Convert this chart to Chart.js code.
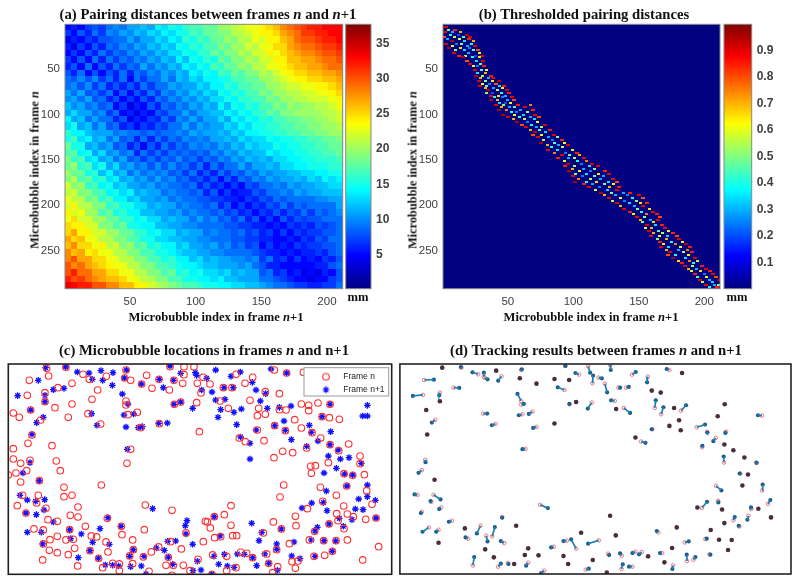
<!DOCTYPE html>
<html><head><meta charset="utf-8">
<style>
html,body{margin:0;padding:0;background:#fff;width:800px;height:584px;overflow:hidden}
canvas{position:absolute}
.t{position:absolute;font-family:'Liberation Serif',serif;font-weight:bold;color:#111;white-space:nowrap;transform:translate(-50%,-50%)}
.title{font-size:14.7px}
.ax{font-size:12.6px}
.v{transform:translate(-50%,-50%) rotate(-90deg);font-size:12.3px}
</style>
<script src="https://cdn.jsdelivr.net/npm/chart.js@4"></script>
</head><body>
<canvas id="a" style="left:0;top:0;width:400px;height:330px"></canvas>
<canvas id="acb" style="left:344px;top:0;width:56px;height:330px"></canvas>
<canvas id="b" style="left:400px;top:0;width:400px;height:330px"></canvas>
<canvas id="bcb" style="left:722px;top:0;width:78px;height:330px"></canvas>
<canvas id="c" style="left:0;top:340px;width:400px;height:244px"></canvas>
<canvas id="d" style="left:395px;top:340px;width:405px;height:244px"></canvas>
<div class="t title" style="left:208px;top:14px">(a) Pairing distances between frames <i>n</i> and <i>n</i>+1</div>
<div class="t title" style="left:584px;top:14px">(b) Thresholded pairing distances</div>
<div class="t title" style="left:204px;top:350px">(c) Microbubble locations in frames <i>n</i> and n+1</div>
<div class="t title" style="left:596px;top:350px">(d) Tracking results between frames <i>n</i> and n+1</div>
<div class="t ax" style="left:216px;top:317px">Microbubble index in frame <i>n</i>+1</div>
<div class="t ax" style="left:591px;top:317px">Microbubble index in frame <i>n</i>+1</div>
<div class="t ax v" style="left:35px;top:170px">Microbubble index in frame <i>n</i></div>
<div class="t ax v" style="left:413px;top:170px">Microbubble index in frame <i>n</i></div>
<div class="t ax" style="left:358px;top:297px">mm</div>
<div class="t ax" style="left:737px;top:297px">mm</div>
<script>
const xTicks=[50,100,150,200];
const yTicks=[50,100,150,200,250];
const distTicks=[5,10,15,20,25,30,35];
const threshTicks=[0.1,0.2,0.3,0.4,0.5,0.6,0.7,0.8,0.9];
const heatColX=[3,8,13,19,24,29,35,40,45,51,56,61,66,72,77,82,88,93,98,104,109,114,120,125,130,135,141,146,151,157,162,167,173,178,183,188,194,199,204,210];
const heatRowY=[4,11,18,26,33,40,48,55,62,69,77,84,91,99,106,113,121,128,135,143,150,157,165,172,179,187,194,201,209,216,223,231,238,245,253,260,267,275,282,289];
const distanceRows=[
[5,6,5,7,8,7,9,10,9,11,11,12,11,14,13,15,14,16,17,17,18,18,20,20,21,22,23,23,24,25,26,28,29,30,31,32,32,33,33,33],
[7,5,8,6,9,7,10,9,11,10,12,11,13,12,14,13,15,15,17,16,18,18,19,19,21,21,22,23,24,24,25,27,28,29,31,31,32,32,33,33],
[4,6,5,7,6,8,8,9,9,11,9,11,11,13,12,14,13,16,15,17,16,18,18,20,19,21,21,23,22,24,24,26,27,29,30,30,31,32,32,33],
[6,4,7,5,8,6,9,8,10,9,11,10,12,11,13,12,15,14,16,15,17,17,19,18,20,20,22,21,23,23,25,25,27,28,29,29,30,31,31,32],
[5,7,5,8,6,9,7,9,8,10,9,11,10,12,11,13,13,15,14,16,16,18,17,19,19,21,20,22,22,24,23,25,26,27,28,28,29,30,30,31],
[7,5,8,5,9,6,9,7,9,8,10,9,11,10,12,11,14,12,15,14,16,15,18,17,19,19,21,20,22,22,24,24,26,26,27,27,28,29,29,30],
[6,8,5,9,5,8,6,9,7,9,8,11,9,11,10,12,11,14,13,15,14,17,16,18,18,20,19,21,21,23,23,24,25,26,26,27,27,28,29,29],
[8,6,9,5,8,5,8,6,9,6,9,8,10,9,11,10,12,11,14,13,15,14,17,16,18,17,19,19,21,20,22,23,24,25,25,26,26,27,27,28],
[9,8,10,8,10,7,9,6,9,5,9,7,9,9,11,9,12,11,13,12,14,14,15,15,17,17,18,18,20,20,21,22,23,24,24,25,25,26,26,27],
[9,10,8,10,7,9,6,8,6,8,6,9,7,9,9,11,10,11,11,13,12,14,14,16,15,17,17,18,18,20,20,21,22,22,23,23,24,24,25,26],
[11,9,11,8,9,7,9,5,8,5,8,6,9,7,10,9,11,10,12,11,13,12,15,14,16,15,17,17,19,18,20,20,21,21,22,22,23,23,24,25],
[10,11,9,11,8,9,6,8,5,7,5,8,6,9,8,10,9,11,10,12,11,13,13,15,14,16,16,17,17,19,18,20,20,21,21,22,22,22,23,24],
[12,10,11,9,10,8,9,5,7,4,6,5,8,6,9,8,10,9,11,10,12,11,14,12,15,14,16,15,17,17,19,18,20,19,20,20,21,21,22,23],
[11,13,11,11,9,10,7,9,5,6,4,6,5,8,7,9,9,11,9,11,11,12,12,14,13,15,14,16,16,18,17,19,19,20,20,20,20,21,21,22],
[14,11,12,9,11,9,9,6,8,4,6,5,7,6,9,7,10,9,11,9,11,11,13,11,14,13,15,14,16,15,17,17,18,18,19,19,20,20,21,22],
[13,15,11,12,9,11,8,9,6,7,5,7,6,8,7,9,9,11,9,11,10,11,11,13,12,14,13,15,15,16,16,17,17,18,18,19,19,20,20,21],
[16,14,14,12,11,11,11,9,10,9,9,8,9,8,9,9,10,9,11,10,11,11,12,11,13,12,14,14,15,15,16,16,17,17,18,18,19,19,20,20],
[15,17,13,14,11,12,9,11,8,9,6,9,6,9,7,9,8,10,9,10,9,11,11,12,11,13,12,13,13,15,14,15,15,16,16,17,17,18,18,19],
[18,15,15,11,12,10,11,8,9,6,8,5,8,6,9,7,9,8,10,9,10,9,11,10,12,11,13,12,13,13,15,14,15,15,16,16,17,17,18,18],
[17,18,14,15,11,13,10,11,9,10,6,9,7,9,7,9,8,9,8,9,8,10,9,11,10,12,11,12,12,14,13,14,14,15,15,16,16,17,17,18],
[19,16,17,13,14,11,12,9,11,8,9,7,9,7,9,8,10,8,9,7,9,8,10,9,11,10,12,11,12,11,13,13,14,14,15,15,16,16,16,17],
[18,20,16,17,13,15,11,13,10,11,9,10,8,10,8,10,8,9,7,9,6,9,7,9,9,11,9,11,11,12,11,13,13,14,14,15,15,15,16,16],
[20,18,18,15,16,12,14,11,12,9,11,9,10,9,10,8,9,7,9,6,8,6,9,7,9,8,10,9,11,10,11,11,12,12,13,13,14,14,15,15],
[19,21,17,18,15,16,13,14,11,12,10,11,9,11,9,10,8,9,7,8,6,8,5,8,6,9,8,10,9,11,10,11,11,12,11,13,12,14,13,14],
[22,19,20,16,17,14,15,12,13,11,11,10,11,9,10,9,9,8,9,6,8,6,7,5,7,5,8,7,9,9,10,9,11,10,11,11,12,12,13,13],
[21,22,19,19,17,17,14,15,13,14,11,12,11,11,9,10,9,9,8,9,6,8,5,7,5,6,6,8,7,9,9,10,9,11,10,11,11,12,12,12],
[23,21,21,18,19,16,17,14,14,12,13,11,11,10,11,9,10,9,9,8,8,7,7,6,6,5,7,6,8,7,9,8,9,9,9,9,10,10,11,11],
[22,24,21,21,19,19,16,17,15,15,13,13,11,12,11,11,9,10,9,9,8,9,6,8,5,7,5,7,6,8,7,9,7,9,8,9,9,9,9,11],
[24,22,23,20,20,17,18,15,16,14,14,12,12,11,11,10,11,9,10,9,9,8,9,7,8,6,7,5,7,6,8,6,8,7,9,7,9,8,9,10],
[23,25,22,22,20,20,18,18,16,16,14,15,13,13,11,12,11,11,9,11,9,10,8,9,7,9,6,8,5,7,5,8,6,8,7,8,8,9,9,9],
[25,24,24,22,22,19,19,17,18,15,15,14,14,12,12,11,11,10,10,9,9,9,9,8,8,7,7,6,6,5,6,5,7,6,7,6,8,7,8,9],
[25,27,24,24,22,22,20,20,18,18,16,16,14,15,13,13,11,12,11,11,9,10,9,9,8,9,7,8,6,7,5,7,5,7,6,7,7,8,8,9],
[27,25,26,23,23,21,21,19,19,17,17,15,15,13,13,12,12,11,11,10,10,9,9,9,8,8,7,7,6,6,5,5,6,5,7,6,8,7,9,9],
[26,28,25,25,23,24,21,22,19,20,17,18,15,16,14,14,12,13,11,11,10,11,9,10,8,9,7,8,5,7,5,6,5,7,6,7,7,8,8,9],
[28,26,27,24,25,23,23,21,21,19,19,17,17,15,15,14,13,12,12,11,11,10,10,9,9,9,9,8,7,6,6,5,6,5,6,6,7,6,8,9],
[28,30,27,27,25,25,23,23,21,21,19,19,17,17,15,16,14,14,12,13,11,12,11,11,10,10,9,10,7,9,6,7,5,7,5,6,5,7,6,8],
[30,28,29,27,26,25,24,23,23,21,21,19,19,17,17,16,15,14,14,13,12,12,11,11,11,10,11,9,8,6,6,5,5,5,5,5,6,6,8,9],
[30,32,29,29,27,27,25,25,23,23,21,21,19,19,17,18,15,16,14,15,13,13,12,13,11,12,11,11,8,9,6,7,5,6,4,5,4,6,5,8],
[32,30,31,29,28,27,26,26,25,23,23,21,21,19,19,17,17,15,15,14,14,13,14,12,12,11,11,11,9,9,8,7,6,5,5,4,5,5,7,8],
[34,33,32,32,30,30,28,28,26,26,24,24,22,21,20,19,18,17,17,16,15,15,14,14,13,13,12,12,11,10,9,9,8,7,7,6,6,7,7,9]
];
const thresholdRows=[
[4,[3],[.9]],[7,[5,10],[.5,.85]],[9,[2,8,14],[.9,.3,.7]],[12,[6,12,19],[.4,.2,.95]],[14,[1,9,16,21],[.8,.55,.45,.9]],[17,[4,13,20],[.3,.6,.85]],[19,[7,17,24],[.95,.35,.7]],[22,[3,11,15,22],[.9,.25,.5,.4]],[24,[8,19,25],[.6,.3,.9]],[27,[5,14,21],[.95,.65,.25]],[29,[10,17,24,27],[.5,.35,.45,.8]],[32,[9,20,28],[.9,.3,.6]],[35,[13,18,25,30],[.85,.55,.2,.9]],[37,[16,23,28],[.95,.4,.65]],[41,[19,26,31],[.8,.35,.9]],[44,[21,29],[.9,.5]],[47,[24,27,32],[.6,.25,.85]],[51,[25,30,34],[.9,.45,.6]],[54,[27,33],[.35,.7]],[57,[26,31,37],[.95,.55,.85]],
[60,[29,35,39],[.7,.3,.9]],[63,[28,33,38,43],[.9,.5,.65,.95]],[66,[31,36,41],[.6,.25,.8]],[68,[29,34,44,47],[.9,.45,.35,.85]],[71,[33,39,46],[.7,.3,.6]],[73,[35,42,49],[.95,.55,.9]],[76,[34,38,45,51],[.5,.2,.4,.85]],[79,[37,43,48],[.9,.65,.3]],[81,[40,46,53],[.4,.25,.9]],[84,[37,42,50,55],[.95,.7,.3,.8]],[87,[44,48,52],[.35,.2,.6]],[89,[41,47,58,67],[.9,.5,.85,.75]],[92,[45,51,55,63],[.7,.3,.45,.9]],[95,[43,49,60,69],[.95,.75,.3,.85]],[97,[53,57,65],[.4,.25,.55]],[100,[46,55,62,71],[.95,.6,.35,.9]],[103,[50,59,67,74],[.9,.45,.3,.8]],[105,[54,63,70],[.7,.55,.35]],[108,[57,65,73],[.95,.25,.6]],[111,[61,68,78],[.8,.4,.9]],[114,[64,72,76],[.9,.3,.55]],[117,[67,74,82],[.7,.45,.85]],[119,[71,79],[.95,.35]],[122,[69,76,85],[.8,.6,.9]],[125,[73,81,88],[.9,.3,.5]],[128,[77,84,91],[.55,.25,.85]],[131,[75,86,93],[.95,.45,.6]],[134,[80,89,96],[.7,.3,.9]],[136,[83,92],[.4,.55]],[139,[81,88,99],[.9,.35,.65]],
[142,[86,94,103],[.75,.25,.85]],[145,[91,97,105],[.9,.5,.7]],[148,[88,96,101,108],[.85,.3,.55,.9]],[151,[93,103,110],[.6,.4,.75]],[154,[96,106,114],[.95,.25,.9]],[157,[94,101,112,119],[.85,.55,.35,.9]],[160,[99,108,116],[.7,.3,.5]],[162,[97,105,113,124],[.95,.6,.25,.85]],[165,[102,110,119,127],[.5,.35,.65,.9]],[168,[100,107,116,123],[.9,.25,.45,.3]],[171,[104,113,121,130],[.75,.55,.3,.9]],[174,[101,110,118,127,133],[.95,.4,.65,.35,.8]],[177,[108,115,124,131],[.85,.3,.5,.6]],[180,[112,120,128,135],[.9,.25,.7,.85]],[183,[117,126,133],[.6,.35,.9]],[186,[121,129,138,143],[.95,.5,.3,.85]],[189,[124,132,141,150],[.7,.3,.25,.9]],[192,[127,136,145,153],[.9,.6,.4,.8]],[195,[130,139,148],[.55,.25,.5]],[198,[133,143,151,156],[.9,.35,.65,.85]],[201,[136,147,153],[.7,.3,.9]],[204,[139,149,158],[.9,.5,.65]],[207,[143,152,161],[.85,.4,.9]],[210,[146,156,164],[.6,.75,.85]],[213,[149,154,166],[.9,.5,.8]],[216,[151,159,165],[.7,.3,.9]],[219,[153,161],[.5,.65]],[222,[156,163,168],[.9,.35,.85]],[225,[155,160,170],[.6,.7,.9]],[228,[158,165,173],[.9,.45,.6]],[231,[161,168,176],[.7,.55,.85]],[234,[159,166,172,179],[.9,.6,.35,.8]],[237,[164,171,181],[.5,.7,.9]],[240,[166,175,183],[.85,.4,.6]],[243,[169,178,186],[.65,.75,.95]],[246,[167,173,182,189],[.9,.35,.6,.85]],[249,[171,180,187],[.7,.3,.75]],[252,[174,184,191],[.9,.55,.85]],[255,[172,178,188],[.8,.4,.6]],[258,[176,186,193],[.95,.35,.9]],[261,[180,189,195],[.65,.75,.55]],[264,[183,192],[.85,.4]],[267,[185,191,198],[.9,.55,.85]],[270,[188,194,201],[.7,.3,.9]],[273,[190,197,204],[.6,.65,.85]],[276,[193,200,207],[.85,.25,.9]],[279,[195,202,209],[.45,.6,.8]],[282,[197,204,211],[.9,.3,.95]],[285,[199,206],[.55,.35]],[288,[201,208,211],[.9,.3,.5]],[290,[204,210],[.4,.85]]
];
const frameN=[[140,100],[198,97],[146,123],[88,136],[249,118],[268,133],[319,124],[378,105],[374,129],[392,136],[440,121],[477,133],[522,136],[510,95],[552,95],[582,95],[552,119],[592,145],[548,145],[425,147],[456,160],[508,165],[135,173],[174,158],[216,145],[293,165],[82,181],[276,193],[135,200],[92,225],[165,218],[216,207],[378,198],[378,210],[523,208],[542,201],[590,203],[40,234],[58,247],[122,255],[205,247],[264,236],[384,239],[412,232],[302,267],[478,266],[422,278],[96,300],[84,325],[156,332],[40,341],[392,343],[598,290],
[823,105],[860,114],[910,112],[609,127],[708,118],[758,127],[630,147],[735,145],[670,158],[696,158],[603,174],[796,170],[838,176],[660,198],[750,196],[685,220],[776,220],[838,224],[858,225],[904,207],[926,211],[954,204],[990,208],[926,227],[772,242],[796,238],[988,248],[1018,253],[966,245],[884,254],[824,272],[772,285],[856,287],[904,279],[936,293],[718,309],[736,320],[792,317],[962,309],[1046,327],[990,329],[920,339],[848,349],[878,353],[1016,347],
[40,372],[62,385],[90,376],[169,378],[181,407],[80,407],[48,414],[25,420],[62,441],[118,437],[381,385],[192,457],[304,450],[68,481],[115,481],[192,485],[216,481],[110,504],[52,512],[138,520],[234,516],[436,510],[516,526],[78,534],[211,541],[234,546],[144,554],[172,559],[322,550],[102,582],[130,585],[209,584],[256,574],[364,574],[433,584],[558,594],[366,599],[274,603],[290,606],[172,604],[150,614],[198,615],[220,613],[318,621],[398,615],[512,620],[130,627],[224,640],[148,646],[172,653],[205,659],[270,647],[324,651],[400,644],[476,636],[454,651],[544,642],[128,675],[233,693],[296,670],[389,663],[430,666],[505,667],[308,698],[338,685],[358,687],[398,686],[358,707],[447,709],[498,691],[520,691],[550,691],[570,707],[516,721],[594,673],
[822,368],[1080,363],[985,383],[932,394],[946,392],[1080,386],[934,415],[1032,416],[1058,421],[1093,419],[851,450],[961,457],[1040,453],[1100,467],[840,486],[1009,481],[693,512],[968,499],[922,521],[1116,508],[1031,513],[1060,545],[1042,537],[673,539],[643,545],[616,559],[622,561],[631,579],[693,571],[1010,536],[886,544],[1097,553],[1014,557],[1128,549],[820,561],[888,572],[987,567],[1032,581],[844,582],[790,594],[944,589],[698,602],[710,602],[644,608],[662,605],[610,620],[928,615],[971,617],[1008,617],[1042,615],[868,626],[1136,635],[830,644],[997,649],[638,660],[680,664],[722,652],[740,655],[800,657],[942,664],[974,661],[758,668],[806,685],[876,680],[894,678],[1088,675],[833,695],[886,700],[708,698],[680,707],[818,713],[636,718]];
const frameN1=[[137,98],[197,96],[115,136],[232,111],[267,114],[277,133],[303,107],[339,113],[380,105],[373,129],[308,136],[337,151],[424,147],[478,133],[520,136],[510,93],[542,115],[586,113],[490,158],[160,164],[192,160],[135,181],[53,182],[135,200],[367,177],[384,207],[92,225],[522,208],[542,201],[578,220],[275,236],[372,240],[401,237],[130,247],[110,263],[291,271],[378,276],[476,265],[502,264],[415,278],[427,275],[96,298],[382,343],[590,121],
[647,105],[813,102],[860,114],[721,111],[693,124],[620,130],[757,142],[672,158],[700,158],[605,165],[636,171],[768,165],[797,176],[647,195],[675,193],[781,198],[662,224],[802,220],[702,232],[724,222],[838,217],[873,213],[990,208],[1102,211],[654,247],[966,245],[1088,243],[1102,243],[710,269],[852,258],[824,272],[928,271],[768,285],[856,286],[992,290],[934,292],[722,306],[750,325],[874,314],[954,318],[920,334],[990,329],[1014,345],
[90,383],[69,414],[118,437],[60,481],[82,495],[107,499],[134,494],[132,525],[78,534],[109,539],[160,561],[324,548],[209,584],[82,592],[124,592],[300,581],[363,574],[244,597],[212,611],[278,622],[328,628],[128,627],[270,647],[400,644],[469,639],[493,646],[503,619],[527,618],[578,628],[558,597],[556,572],[561,557],[458,521],[235,668],[295,670],[389,664],[432,664],[505,667],[316,690],[338,691],[356,693],[392,695],[424,693],[518,688],[592,679],[579,707],[438,717],[603,705],
[750,372],[985,363],[1021,372],[1047,368],[1084,385],[1009,400],[972,414],[1034,417],[1058,420],[1041,453],[1102,450],[979,468],[1102,485],[1076,492],[1126,496],[935,504],[970,503],[906,519],[981,527],[1066,522],[1089,524],[643,545],[1018,550],[1056,554],[1128,549],[755,565],[987,567],[844,582],[1030,574],[952,577],[945,588],[785,592],[660,603],[934,615],[777,617],[882,621],[972,617],[1007,618],[830,627],[830,643],[997,649],[642,664],[673,658],[712,657],[733,658],[794,657],[875,663],[900,671],[945,664],[758,668],[656,688],[682,693],[702,697],[770,692],[806,685],[832,706],[635,718]];
const trackMoved=[[199,98,197,96],[249,118,232,112],[87,135,116,134],[266,125,266,113],[268,128,277,133],[319,124,309,137],[378,105,380,103],[510,93,511,93],[552,119,541,114],[579,94,585,113],[592,145,594,122],[610,128,620,130],[508,165,488,157],[175,158,192,159],[134,173,132,181],[83,180,53,183],[378,198,367,177],[378,209,386,207],[523,208,523,207],[590,203,578,221],[264,236,276,236],[382,238,371,241],[412,230,401,237],[120,255,110,263],[301,267,290,271],[424,276,414,279],[391,342,382,343],
[645,90,647,105],[711,119,722,111],[758,125,756,142],[823,105,815,102],[629,146,636,172],[670,158,675,158],[693,158,701,156],[659,198,648,196],[686,219,705,234],[779,219,782,196],[798,238,805,217],[858,227,873,211],[1101,242,1089,241],[905,277,930,269],[772,283,770,283],[936,291,937,293],[993,290,991,294],[962,309,955,319],[738,320,751,324],[921,337,922,333],[987,383,986,365],
[90,375,91,382],[80,406,70,414],[67,480,58,479],[115,480,136,494],[108,501,106,499],[138,518,132,523],[80,531,77,535],[435,510,458,520],[170,558,161,561],[321,547,321,549],[101,578,82,591],[130,585,123,591],[256,573,245,596],[291,605,299,577],[273,603,277,620],[219,612,211,608],[327,625,317,619],[476,636,468,638],[515,618,505,619],[543,642,528,614],[611,617,579,627],[233,692,237,667],[309,696,317,687],[338,685,340,688],[399,684,393,693],[447,708,438,715],[572,705,581,702],
[1083,383,1085,384],[1036,416,1034,416],[1101,467,1103,449],[963,453,979,467],[921,519,936,501],[969,498,970,503],[1119,507,1126,496],[1069,523,1068,518],[1060,543,1057,555],[1015,557,1019,547],[1033,575,1031,573],[790,593,785,589],[931,613,935,612],[869,623,881,620],[639,657,642,661],[680,663,675,656],[721,651,712,655],[740,652,732,659],[801,655,795,655],[943,659,946,660],[876,679,875,660],[895,675,901,667],[834,692,832,703],[679,703,683,689],[712,696,702,696]];
const trackStill=[[141,98],[303,107],[374,130],[478,132],[522,135],[424,146],[134,199],[93,225],[543,201],[478,266],[96,299],
[861,114],[770,167],[797,173],[663,222],[837,219],[989,208],[968,244],[852,256],[823,273],[857,286],[721,308],[988,329],[1015,346],[1048,368],
[118,435],[209,581],[363,573],[558,594],[130,624],[399,641],[270,644],[430,662],[389,661],[296,668],[505,664],[519,688],[357,688],[593,676],
[1059,419],[1042,452],[907,518],[981,524],[1090,522],[645,543],[1128,548],[988,565],[845,578],[947,586],[662,602],[972,615],[1010,616],[831,640],[999,646],[759,665],[808,683],[635,714]];

function jet(t){
  t=Math.max(0,Math.min(1,t));
  const f=(c)=>Math.round(255*Math.max(0,Math.min(1,1.5-Math.abs(4*t-c))));
  return `rgb(${f(3)},${f(2)},${f(1)})`;
}
const sprites=new Map();
function sprite(color,w,h){
  const k=color+w+'x'+h;
  if(!sprites.has(k)){const c=document.createElement('canvas');c.width=w;c.height=h;const g=c.getContext('2d');g.fillStyle=color;g.fillRect(0,0,w,h);sprites.set(k,c);}
  return sprites.get(k);
}
const sansTick={family:"'Liberation Sans',sans-serif",size:11.5};
const sansBold={family:"'Liberation Sans',sans-serif",size:12,weight:'bold'};
const framePlugin={id:'framePlot',
  beforeDatasetsDraw(ch,_,o){const g=ch.ctx;if(o.fill){const a=ch.chartArea;g.fillStyle=o.fill;g.fillRect(a.left,a.top,a.width,a.height);}if(o.blur)g.filter=`blur(${o.blur}px)`;},
  afterDatasetsDraw(ch,_,o){const a=ch.chartArea;const g=ch.ctx;g.filter='none';g.save();g.strokeStyle=o.color;g.lineWidth=o.width;g.strokeRect(a.left,a.top,a.width,a.height);g.restore();}};
Chart.register(framePlugin);
function heatScales(xw){return {
  x:{type:'linear',min:0.5,max:212,
    afterBuildTicks(s){s.ticks=xTicks.map(v=>({value:v}));},
    afterFit(s){s.height=41.3;},
    border:{display:false},grid:{display:true,drawOnChartArea:false,drawTicks:true,tickLength:-3,color:'#666'},
    ticks:{font:sansTick,color:'#404040',padding:9,maxRotation:0,autoSkip:false,callback:v=>v}},
  y:{type:'linear',reverse:true,min:0.5,max:292,
    afterBuildTicks(s){s.ticks=yTicks.map(v=>({value:v}));},
    afterFit(s){s.width=xw;},
    border:{display:false},grid:{display:true,drawOnChartArea:false,drawTicks:true,tickLength:-3,color:'#666'},
    ticks:{font:sansTick,color:'#404040',padding:8,autoSkip:false,callback:v=>v}}
};}
const base={responsive:false,animation:false,events:[]};
function size(id,w,h){const c=document.getElementById(id);c.width=w;c.height=h;return c;}
// (a)
new Chart(size('a',400,330),{type:'scatter',data:{datasets:[{label:'Pairing distance',
  data:distanceRows.flatMap((r,i)=>r.map((v,j)=>({x:heatColX[j],y:heatRowY[i],v}))),
  pointRadius:3,pointStyle:c=>sprite(jet((c.raw.v-0.2)/37.5),8,8)}]},
  options:{...base,layout:{padding:{right:57.3,top:24.3,left:0,bottom:0}},scales:heatScales(65),
    plugins:{legend:{display:false},framePlot:{color:'#888',width:1,fill:jet(0.35),blur:.6}}}});
// (b)
new Chart(size('b',400,330),{type:'scatter',data:{datasets:[{label:'Thresholded distance',
  data:thresholdRows.flatMap(r=>r[1].map((x,j)=>({x,y:r[0],v:r[2][j]}))),
  pointRadius:2,pointStyle:c=>sprite(jet(c.raw.v),c.raw.v>=.8?4:3,2)}]},
  options:{...base,layout:{padding:{right:80,top:24.3,left:0,bottom:0}},scales:heatScales(43),
    plugins:{legend:{display:false},framePlot:{color:'#888',width:1,fill:jet(0),blur:.35}}}});
// colour bars
function colorbar(id,w,min,max,ticks,padLeft,axisW,label){
  new Chart(size(id,w,330),{type:'bar',data:{labels:[label],datasets:[{label,data:[[min,max]],barPercentage:1,categoryPercentage:1,borderSkipped:false,
    backgroundColor(c){const a=c.chart.chartArea;if(!a)return '#00f';const g=c.chart.ctx.createLinearGradient(0,a.bottom,0,a.top);for(let i=0;i<=32;i++)g.addColorStop(i/32,jet(i/32));return g;}}]},
    options:{...base,layout:{padding:{left:padLeft,top:24.3,bottom:41.3,right:0}},
      scales:{x:{display:false},y:{position:'right',min,max,
        afterBuildTicks(s){s.ticks=ticks.map(v=>({value:v}));},
        afterFit(s){s.width=axisW;},
        border:{display:false},grid:{drawOnChartArea:false,drawTicks:false},
        ticks:{font:sansBold,color:'#404040',padding:5,autoSkip:false,callback:v=>String(v)}}},
      plugins:{legend:{display:false},framePlot:{color:'#888',width:1}}}});
}
colorbar('acb',56,0.2,37.7,distTicks,1.7,29,'mm');
colorbar('bcb',78,0,1,threshTicks,2,48.3,'mm');
// (c)
function legendGlyph(kind){
  const c=document.createElement('canvas');c.width=12;c.height=12;const g=c.getContext('2d');
  if(kind==='circle'){g.strokeStyle='#f33';g.lineWidth=1.1;g.beginPath();g.arc(6,6,3.3,0,7);g.stroke();}
  else{g.strokeStyle='#11f';g.lineWidth=1.2;g.beginPath();[[0,3.4],[3.4,0],[2.4,2.4],[2.4,-2.4]].forEach(([a,b])=>{g.moveTo(6-a,6-b);g.lineTo(6+a,6+b);});g.stroke();}
  return c;
}
const legendPlugin={id:'legendBox',
  beforeLayout(ch){const l=ch.legend;if(l)l._layers=()=>[{z:5,draw(a){const g=ch.ctx;g.save();g.fillStyle='#fff';g.fillRect(304,27.7,84.7,28.3);g.strokeStyle='#999';g.lineWidth=1;g.strokeRect(304,27.7,84.7,28.3);g.restore();l.draw(a);}}];},
  afterLayout(ch){const l=ch.legend;l.left=308.5;l.right=388;l.top=28;l.bottom=60;l.width=79.5;l.height=32;}};
new Chart(size('c',400,244),{type:'scatter',data:{datasets:[
  {label:'Frame n',data:frameN.map(p=>({x:p[0],y:p[1]})),pointStyle:'circle',pointRadius:3.3,pointBorderWidth:1.1,pointBorderColor:'#f33',pointBackgroundColor:'rgba(0,0,0,0)'},
  {label:'Frame n+1',data:frameN1.map(p=>({x:p[0],y:p[1]})),pointStyle:'star',pointRadius:3.3,pointBorderWidth:1.3,pointBorderColor:'#11f',pointBackgroundColor:'#11f'}]},
  options:{...base,layout:{padding:{left:8.3,right:8.3,top:24,bottom:9.7}},
    scales:{x:{display:false,min:25,max:1175},y:{display:false,reverse:true,min:87,max:718}},
    plugins:{framePlot:{color:'#222',width:1.6},
      legend:{position:'chartArea',align:'start',labels:{font:{family:"'Liberation Sans',sans-serif",size:8.5},color:'#222',usePointStyle:true,boxHeight:6,pointStyleWidth:26,padding:4.5,
        generateLabels(ch){return Chart.defaults.plugins.legend.labels.generateLabels(ch).map((it,i)=>({...it,pointStyle:legendGlyph(i===0?'circle':'star')}));}}}}},
  plugins:[legendPlugin]});
// (d)
const segs=trackMoved.flatMap(p=>[{x:p[0],y:p[1]},{x:p[2],y:p[3]},{x:null,y:null}]);
new Chart(size('d',405,244),{type:'scatter',data:{datasets:[
  {label:'Track',data:segs,showLine:true,spanGaps:false,borderColor:'#1d7fb5',borderWidth:1.7,pointRadius:0},
  {label:'Frame n+1',data:trackMoved.map(p=>({x:p[2],y:p[3]})),pointRadius:2.1,pointBackgroundColor:'#1b5d88',pointBorderWidth:0},
  {label:'Both frames',data:trackStill.map(p=>({x:p[0],y:p[1]})),pointRadius:2.3,pointBackgroundColor:'#4a2c3c',pointBorderWidth:0},
  {label:'Frame n',data:trackMoved.map(p=>({x:p[0],y:p[1]})),pointRadius:1.8,pointBorderWidth:.9,pointBorderColor:'#ee6a74',pointBackgroundColor:'rgba(0,0,0,0)'}]},
  options:{...base,layout:{padding:{left:4.7,right:9,top:24,bottom:10}},
    scales:{x:{display:false,min:14,max:1188},y:{display:false,reverse:true,min:87,max:718}},
    plugins:{legend:{display:false},framePlot:{color:'#222',width:1.6}}}});
</script>
</body></html>
